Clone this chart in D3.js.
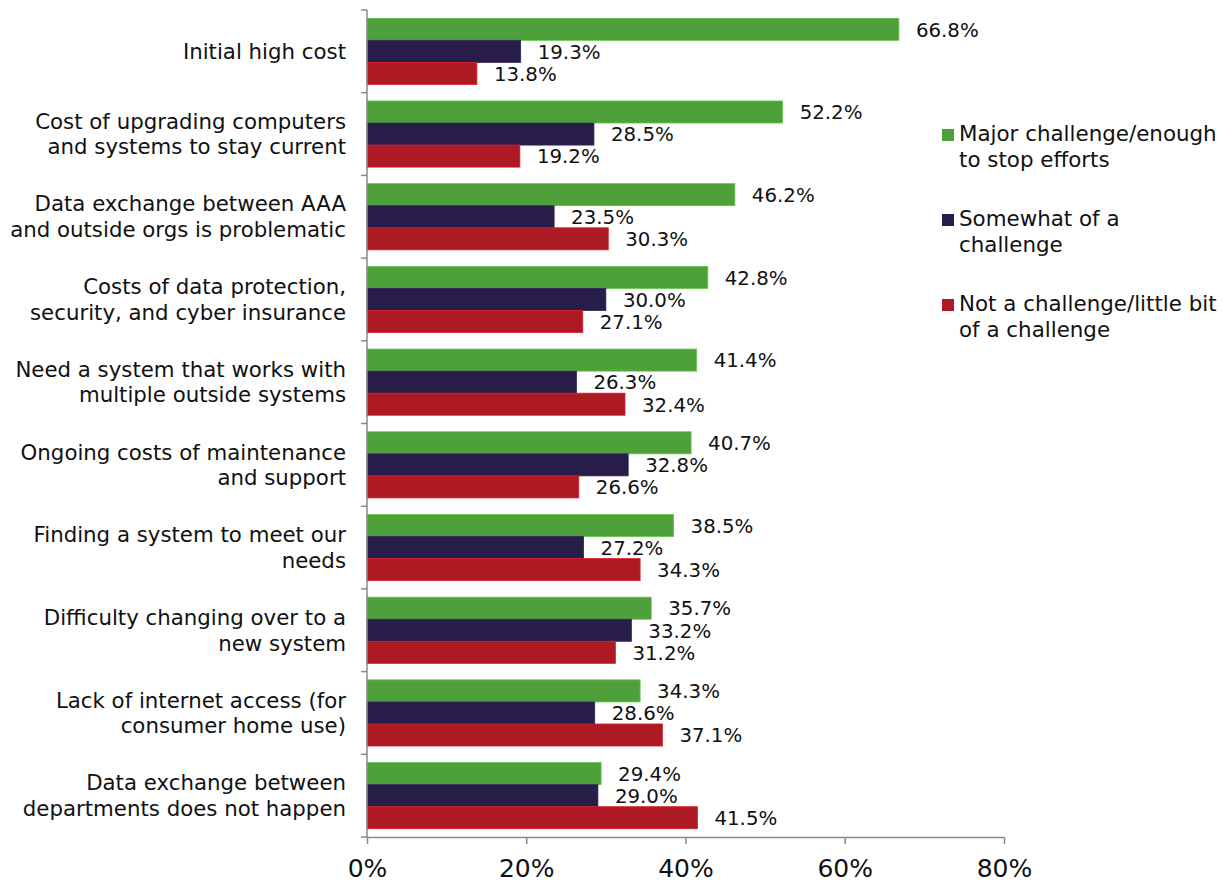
<!DOCTYPE html>
<html>
<head>
<meta charset="utf-8">
<script src="https://cdn.jsdelivr.net/npm/d3@7.9.0/dist/d3.min.js"></script>
<style>
  body { margin: 0; background: #fff; }
  svg { display: block; font-family: "DejaVu Sans", Verdana, sans-serif; }
</style>
</head>
<body>
<svg id="chart" width="1226" height="882"></svg>
<script>
// categories (each split into its display lines)
const categories = [
  ['Initial high cost'],
  ['Cost of upgrading computers', 'and systems to stay current'],
  ['Data exchange between AAA', 'and outside orgs is problematic'],
  ['Costs of data protection,', 'security, and cyber insurance'],
  ['Need a system that works with', 'multiple outside systems'],
  ['Ongoing costs of maintenance', 'and support'],
  ['Finding a system to meet our', 'needs'],
  ['Difficulty changing over to a', 'new system'],
  ['Lack of internet access (for', 'consumer home use)'],
  ['Data exchange between', 'departments does not happen']
];

const seriesNames = [
  ['Major challenge/enough', 'to stop efforts'],
  ['Somewhat of a', 'challenge'],
  ['Not a challenge/little bit', 'of a challenge']
];
const seriesColors = ['#4ea03a', '#271d48', '#ae1a24'];

const major    = [66.8, 52.2, 46.2, 42.8, 41.4, 40.7, 38.5, 35.7, 34.3, 29.4];
const somewhat = [19.3, 28.5, 23.5, 30.0, 26.3, 32.8, 27.2, 33.2, 28.6, 29.0];
const notMuch  = [13.8, 19.2, 30.3, 27.1, 32.4, 26.6, 34.3, 31.2, 37.1, 41.5];

const xTicks = [0, 20, 40, 60, 80];

const series = [major, somewhat, notMuch];

const svg = d3.select('#chart');
const plotLeft = 367, plotRight = 1004, plotTop = 10, plotBottom = 837;

const x = d3.scaleLinear().domain([0, 80]).range([plotLeft, plotRight]);
const y = d3.scaleBand().domain(d3.range(categories.length)).range([plotTop, plotBottom]).paddingInner(0.2).paddingOuter(0.1);
const inner = d3.scaleBand().domain(d3.range(series.length)).range([0, y.bandwidth()]);

// bars + labels
series.forEach((vals, s) => {
  const g = svg.append('g');
  g.selectAll('rect').data(vals).join('rect')
    .attr('x', x(0))
    .attr('y', (d, i) => y(i) + inner(s))
    .attr('width', d => x(d) - x(0))
    .attr('height', inner.bandwidth())
    .attr('fill', seriesColors[s])
    .attr('stroke', d3.color(seriesColors[s]).brighter(0.6))
    .attr('stroke-width', 0.8);
  g.selectAll('text').data(vals).join('text')
    .attr('x', d => x(d) + 17)
    .attr('y', (d, i) => y(i) + inner(s) + inner.bandwidth() / 2 + 7.3)
    .attr('font-size', 19.8)
    .attr('fill', '#111')
    .text(d => d.toFixed(1) + '%');
});

// y axis line with group ticks
const axisColor = '#8a8a8a';
svg.append('line').attr('x1', plotLeft).attr('x2', plotLeft).attr('y1', plotTop).attr('y2', plotBottom)
  .attr('stroke', axisColor).attr('stroke-width', 1.5);
const step = (plotBottom - plotTop) / categories.length;
d3.range(categories.length + 1).forEach(i => {
  svg.append('line').attr('x1', plotLeft - 6).attr('x2', plotLeft)
    .attr('y1', plotTop + i * step).attr('y2', plotTop + i * step)
    .attr('stroke', axisColor).attr('stroke-width', 1.5);
});

// category labels
categories.forEach((lines, i) => {
  const cy = plotTop + step * i + step / 2;
  const lh = 25.6;
  const t = svg.append('text').attr('text-anchor', 'end').attr('font-size', 21.3).attr('fill', '#111');
  lines.forEach((ln, k) => {
    t.append('tspan').attr('x', plotLeft - 21)
      .attr('y', cy + (k - (lines.length - 1) / 2) * lh + 7.5)
      .text(ln);
  });
});

// x axis
const xAxis = d3.axisBottom(x).tickValues(xTicks).tickFormat(d => d + '%').tickSize(7).tickSizeOuter(0);
const ax = svg.append('g').attr('transform', `translate(0,${plotBottom})`).call(xAxis);
ax.select('.domain').attr('stroke', axisColor).attr('stroke-width', 1.5);
ax.selectAll('.tick line').attr('stroke', axisColor).attr('stroke-width', 1.5);
ax.selectAll('.tick text').attr('font-size', 25).attr('fill', '#111')
  .attr('font-family', '"DejaVu Sans", Verdana, sans-serif').attr('y', 22).attr('dy', '0.71em');

// legend
const legendY = [141, 226, 311];
seriesNames.forEach((lines, s) => {
  svg.append('rect').attr('x', 942).attr('y', legendY[s] - 12).attr('width', 12).attr('height', 12)
    .attr('fill', seriesColors[s]);
  const t = svg.append('text').attr('font-size', 21.4).attr('fill', '#111');
  lines.forEach((ln, k) => {
    t.append('tspan').attr('x', 959).attr('y', legendY[s] + k * 26).text(ln);
  });
});
</script>
</body>
</html>
